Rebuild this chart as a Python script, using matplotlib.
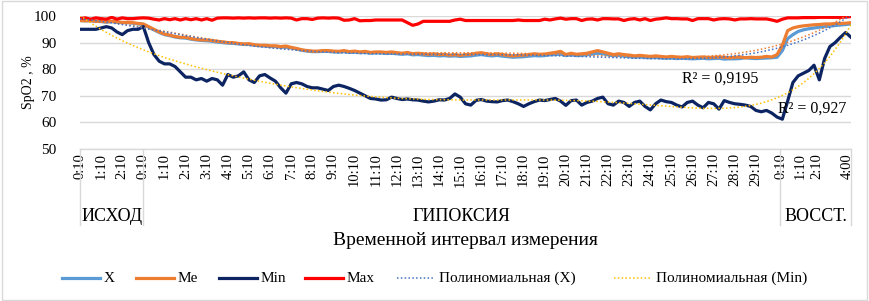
import numpy as np
import matplotlib
matplotlib.use("Agg")
import matplotlib.pyplot as plt
from matplotlib.lines import Line2D
from matplotlib.patches import Rectangle
import matplotlib.transforms as mtransforms

plt.rcParams['font.family'] = ['Liberation Serif', 'DejaVu Serif']

# ---------------- data (SpO2, %) sampled along the time axis ----------------
spo2_x = [
    98.3, 98.2, 98.2, 98.0, 97.9, 97.7, 97.9, 97.6, 97.5, 97.5,
    97.3, 97.0, 96.8, 95.8, 94.8, 93.8, 93.0, 92.6, 92.1, 91.8,
    91.7, 91.3, 91.0, 90.8, 90.7, 90.5, 90.2, 90.0, 89.8, 89.7,
    89.5, 89.3, 89.3, 89.0, 88.8, 88.7, 88.5, 88.5, 88.2, 88.3,
    88.0, 87.6, 87.1, 86.8, 86.6, 86.6, 86.7, 86.7, 86.5, 86.4,
    86.6, 86.3, 86.4, 86.2, 86.3, 86.0, 86.1, 86.1, 85.9, 86.0,
    85.8, 85.6, 85.8, 85.4, 85.5, 85.3, 85.1, 85.2, 85.0, 85.1,
    84.9, 85.0, 84.8, 84.9, 85.0, 85.3, 85.5, 85.2, 85.0, 85.2,
    84.9, 84.7, 84.5, 84.6, 84.7, 84.9, 85.1, 85.0, 85.1, 85.4,
    85.5, 85.7, 85.1, 85.4, 85.1, 85.2, 85.4, 85.7, 86.0, 85.8,
    85.4, 85.0, 85.2, 84.9, 84.7, 84.5, 84.6, 84.4, 84.3, 84.4,
    84.2, 84.1, 84.2, 84.0, 84.1, 84.0, 83.9, 84.0, 84.1, 83.9,
    84.0, 84.1, 83.8, 83.9, 83.9, 84.0, 84.3, 84.1, 84.0, 84.1,
    84.2, 84.3, 84.5, 87.0, 91.5, 93.0, 94.2, 94.8, 95.2, 95.5,
    95.8, 96.0, 96.2, 96.4, 96.6, 96.8, 97.0,
]
spo2_me = [
    98.3, 98.2, 98.3, 98.0, 98.0, 97.8, 98.0, 97.8, 97.6, 97.6,
    97.5, 97.2, 97.0, 96.0, 95.0, 94.0, 93.2, 92.8, 92.3, 92.0,
    92.0, 91.5, 91.2, 91.0, 91.0, 90.8, 90.5, 90.3, 90.0, 90.0,
    89.7, 89.5, 89.6, 89.2, 89.0, 89.0, 88.8, 88.8, 88.5, 88.7,
    88.2, 87.8, 87.3, 87.0, 86.8, 86.8, 87.0, 87.0, 86.8, 86.7,
    87.0, 86.6, 86.8, 86.5, 86.7, 86.3, 86.5, 86.5, 86.3, 86.5,
    86.2, 86.0, 86.3, 85.8, 86.0, 85.8, 85.6, 85.8, 85.5, 85.6,
    85.3, 85.5, 85.2, 85.5, 85.6, 86.0, 86.2, 85.8, 85.5, 85.8,
    85.5, 85.2, 85.0, 85.2, 85.3, 85.5, 85.8, 85.6, 85.7, 86.0,
    86.3, 86.7, 85.5, 86.0, 85.6, 85.8, 86.0, 86.5, 87.0, 86.5,
    86.0, 85.5, 85.8, 85.5, 85.3, 85.0, 85.2, 85.0, 84.8, 85.0,
    84.8, 84.6, 84.8, 84.6, 84.5, 84.7, 84.4, 84.5, 84.6, 84.4,
    84.5, 84.6, 84.5, 84.3, 84.5, 84.6, 84.3, 84.5, 84.4, 84.5,
    84.8, 84.6, 85.5, 89.0, 94.5, 95.5, 96.0, 96.3, 96.5, 96.7,
    96.8, 97.0, 97.0, 97.2, 97.2, 97.3, 97.5,
]
spo2_min = [
    95.0, 95.0, 95.0, 95.0, 95.5, 96.0, 95.5, 94.0, 93.0, 94.5,
    95.0, 95.0, 96.0, 90.0, 85.5, 83.0, 82.0, 82.0, 81.0, 79.0,
    77.0, 77.0, 76.0, 76.5, 75.5, 76.5, 76.0, 74.0, 78.0, 77.0,
    77.5, 79.0, 76.0, 75.0, 77.5, 78.0, 76.7, 75.5, 73.0, 71.0,
    74.5, 75.0, 74.5, 73.5, 73.0, 73.0, 72.5, 72.0, 73.5, 74.0,
    73.5, 72.8, 72.0, 71.0, 70.0, 69.0, 68.8, 68.4, 68.5, 69.5,
    69.0, 68.6, 68.8, 68.5, 68.4, 68.0, 67.7, 68.0, 68.5, 68.4,
    69.0, 70.7, 69.5, 67.0, 66.5, 68.3, 68.6, 68.0, 67.8, 67.7,
    68.2, 68.4, 67.8, 67.0, 66.0, 67.0, 67.8, 68.4, 68.2, 68.6,
    69.0, 68.0, 66.4, 68.2, 68.4, 66.5, 67.5, 68.0, 69.0, 69.5,
    67.0, 66.5, 68.0, 67.5, 66.0, 67.5, 68.0, 66.0, 64.7, 67.0,
    68.4, 67.8, 67.5, 66.5, 65.8, 67.5, 68.0, 66.5, 65.5, 67.5,
    67.0, 65.0, 68.2, 67.5, 67.0, 66.8, 66.5, 66.0, 64.5, 64.0,
    64.5, 63.5, 62.0, 61.2, 68.0, 75.0, 77.5, 78.5, 79.5, 81.5,
    76.0, 84.0, 88.5, 90.0, 92.0, 93.8, 92.0,
]
spo2_max = [
    99.0, 99.3, 98.8, 99.3, 99.0, 98.8, 99.5, 98.8, 99.3, 99.0,
    99.0, 99.2, 99.3, 99.2, 98.8, 98.5, 99.0, 98.6, 99.0, 98.5,
    99.0, 98.6, 99.0, 98.5, 99.0, 98.4, 99.2, 99.3, 99.3, 99.2,
    99.3, 99.2, 99.3, 99.2, 99.3, 99.3, 99.2, 99.3, 99.2, 99.3,
    99.2, 98.5, 99.0, 99.0, 98.7, 99.2, 99.3, 99.2, 99.3, 99.2,
    98.4, 98.5, 99.0, 98.2, 98.3, 98.3, 98.5, 98.5, 98.5, 98.5,
    98.5, 98.5, 97.5, 96.5, 97.0, 98.0, 98.0, 98.0, 98.0, 98.0,
    98.0, 98.5, 98.8, 98.3, 98.3, 98.3, 98.3, 98.3, 98.3, 98.3,
    98.3, 98.3, 98.3, 98.5, 98.3, 98.3, 98.3, 98.3, 98.8, 98.5,
    98.9, 99.2, 98.8, 99.0, 99.0, 98.3, 98.8, 98.9, 98.5, 99.0,
    99.0, 98.9, 98.9, 98.3, 98.8, 99.0, 98.5, 99.0, 98.3, 98.8,
    99.0, 99.3, 99.0, 99.0, 98.9, 98.9, 98.3, 99.0, 99.0, 99.0,
    98.5, 98.9, 99.0, 98.9, 98.5, 98.9, 98.9, 99.0, 98.9, 98.9,
    98.9, 98.5, 98.0, 98.8, 99.3, 99.3, 99.3, 99.4, 99.4, 99.4,
    99.5, 99.5, 99.5, 99.5, 99.5, 99.6, 99.8,
]

tick_labels = [
    "0:10", "1:10", "2:10",
    "0:10", "1:10", "2:10", "3:10", "4:10", "5:10", "6:10", "7:10", "8:10", "9:10",
    "10:10", "11:10", "12:10", "13:10", "14:10", "15:10", "16:10", "17:10", "18:10",
    "19:10", "20:10", "21:10", "22:10", "23:10", "24:10", "25:10", "26:10", "27:10",
    "28:10", "29:10",
    "0:10", "1:10", "2:10", "4:00",
]
phase_names = ["ИСХОД", "ГИПОКСИЯ", "ВОССТ."]
series_names = ["X", "Me", "Min", "Max"]
trend_names = ["Полиномиальная (X)", "Полиномиальная (Min)"]
r2_labels = ["R² = 0,9195", "R² = 0,927"]

# ---------------- layout ----------------
W, H = 869, 301
fig = plt.figure(figsize=(W / 100, H / 100), dpi=100)
ax = fig.add_axes([80 / W, 1 - 149 / H, (851 - 80) / W, (149 - 16) / H])

step = 0.25
def xs(arr):
    return np.arange(len(arr)) * step

x_end = (len(spo2_x) - 1) * step
tick_pos = list(range(0, 33)) + [33.2, 34.1, 34.9, 36.3]
phase_bounds = [0, 3, 33.15, x_end]

c_x, c_me, c_min, c_max = "#5B9BD5", "#ED7D31", "#0C2461", "#FF0000"
c_trx, c_trmin = "#4472C4", "#FFC000"
c_grid = "#D9D9D9"

lw = 2.3
ax.plot(xs(spo2_x), spo2_x, color=c_x, lw=lw, solid_joinstyle="round", zorder=3)
ax.plot(xs(spo2_me), spo2_me, color=c_me, lw=lw, solid_joinstyle="round", zorder=4)
ax.plot(xs(spo2_min), spo2_min, color=c_min, lw=lw, solid_joinstyle="round", zorder=5)
ax.plot(xs(spo2_max), spo2_max, color=c_max, lw=lw, solid_joinstyle="round", zorder=6)

# polynomial (6th order) trendlines, as Excel
P = np.polynomial.Polynomial
xf = np.linspace(0, x_end, 400)
tr_x = P.fit(xs(spo2_x), spo2_x, 6)
tr_me = P.fit(xs(spo2_me), spo2_me, 6)
tr_min = P.fit(xs(spo2_min), spo2_min, 6)
dots = (0, (1, 1.5))
ax.plot(xf, tr_me(xf), color=c_me, lw=1.1, ls=dots, zorder=7)
ax.plot(xf, tr_x(xf), color=c_trx, lw=1.1, ls=dots, zorder=7)
ax.plot(xf, tr_min(xf), color=c_trmin, lw=1.1, ls=dots, zorder=7)

ax.text(28.5, 76.5, r2_labels[0], fontsize=11.5, va="center", ha="left", zorder=8)
ax.text(33.05, 65.2, r2_labels[1], fontsize=11.5, va="center", ha="left", zorder=8)

ax.set_xlim(0, x_end)
ax.set_ylim(50, 100)
ax.set_yticks([50, 60, 70, 80, 90, 100])
ax.yaxis.grid(True, color=c_grid, lw=1)
ax.set_axisbelow(True)
for s in ["top", "right", "left"]:
    ax.spines[s].set_visible(False)
ax.spines["bottom"].set_color(c_grid)
ax.spines["bottom"].set_linewidth(1)
ax.tick_params(axis="y", length=0, labelsize=11, pad=17)
ax.set_xticks(tick_pos)
ax.set_xticklabels(tick_labels, rotation=90, fontsize=10.5)
ax.tick_params(axis="x", length=0, pad=3)
ax.set_ylabel("SpO2 , %", fontsize=10)
ax.yaxis.set_label_coords(-0.058, 0.5)

# phase separators & labels
trans = mtransforms.blended_transform_factory(ax.transData, ax.transAxes)
for b in phase_bounds:
    ax.add_line(Line2D([b, b], [0, -0.57], transform=trans, color=c_grid, lw=1, clip_on=False))
for i, name in enumerate(phase_names):
    cx = (phase_bounds[i] + phase_bounds[i + 1]) / 2
    ax.text(cx, -0.51, name, transform=trans, ha="center", va="center", fontsize=13)
ax.text(0.5, -0.685, "Временной интервал измерения", transform=ax.transAxes,
        ha="center", va="center", fontsize=14)

# legend (laid out manually in pixel positions)
leg_styles = [
    dict(color=c_x, lw=lw), dict(color=c_me, lw=lw),
    dict(color=c_min, lw=lw), dict(color=c_max, lw=lw),
    dict(color=c_trx, lw=1.1, ls=dots), dict(color=c_trmin, lw=1.1, ls=dots),
]
leg_x = [62, 136, 219, 305, 397, 614]
leg_y = 1 - 278 / H
for px, st, name in zip(leg_x, leg_styles, series_names + trend_names):
    fig.add_artist(Line2D([px / W, (px + 38) / W], [leg_y, leg_y],
                          transform=fig.transFigure, **st))
    fig.text((px + 42) / W, leg_y, name, ha="left", va="center", fontsize=11)

fig.add_artist(Rectangle((0.002, 0.004), 0.996, 0.992, transform=fig.transFigure,
                         fill=False, edgecolor=c_grid, lw=1))

fig.savefig("out.png", dpi=100)
